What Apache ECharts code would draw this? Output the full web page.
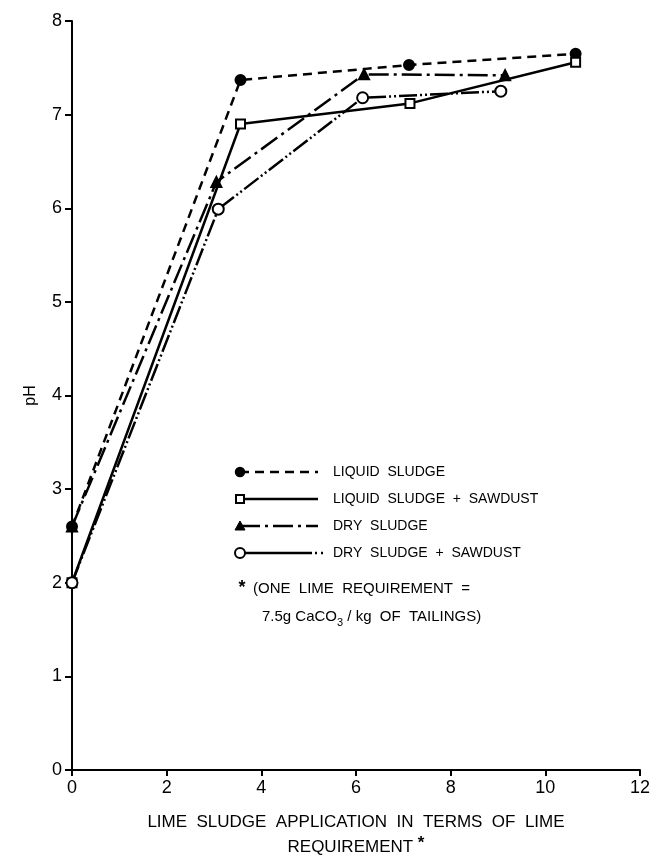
<!DOCTYPE html>
<html>
<head>
<meta charset="utf-8">
<script src="https://cdn.jsdelivr.net/npm/echarts@6/dist/echarts.min.js"></script>
<style>
html,body{margin:0;padding:0;background:#fff;}
#chart{width:653px;height:861px;}
</style>
</head>
<body>
<div id="chart"></div>
<script>
// ---- data ----
const liquidX = [0, 3.56, 7.12, 10.64];
const liquidY = [2.6, 7.37, 7.53, 7.65];
const liquidSawX = [0, 3.56, 7.14, 10.64];
const liquidSawY = [2.0, 6.9, 7.12, 7.56];
const dryX = [0, 3.05, 6.17, 9.15];
const dryY = [2.6, 6.28, 7.43, 7.42];
const drySawX = [0, 3.09, 6.14, 9.06];
const drySawY = [2.0, 5.99, 7.18, 7.25];
const seriesNames = ['LIQUID  SLUDGE', 'LIQUID  SLUDGE  +  SAWDUST', 'DRY  SLUDGE', 'DRY  SLUDGE  +  SAWDUST'];
const xTicks = [0, 2, 4, 6, 8, 10, 12];
const yTicks = [0, 1, 2, 3, 4, 5, 6, 7, 8];

const FONT = "'Liberation Sans', Arial, Helvetica, sans-serif";
const pairs = (xs, ys) => xs.map((x, i) => [x, ys[i]]);

const chart = echarts.init(document.getElementById('chart'), null, {renderer: 'canvas'});

// legend drawn as graphics
const lgX = 240, lgLineEnd = 318, lgTextX = 333;
const lgY = [472, 499, 526, 553];
const lw = 2.5;
const graphics = [];
// row 1: dashed + filled circle
graphics.push({type:'line', shape:{x1:lgX, y1:lgY[0], x2:lgLineEnd, y2:lgY[0]}, style:{stroke:'#000', lineWidth:lw, lineDash:[9,6]}});
graphics.push({type:'circle', shape:{cx:lgX, cy:lgY[0], r:4.5}, style:{fill:'#000', stroke:'#000', lineWidth:1.5}});
// row 2: solid + open square
graphics.push({type:'line', shape:{x1:lgX, y1:lgY[1], x2:lgLineEnd, y2:lgY[1]}, style:{stroke:'#000', lineWidth:lw}});
graphics.push({type:'rect', shape:{x:lgX-4, y:lgY[1]-4, width:8, height:8}, style:{fill:'#fff', stroke:'#000', lineWidth:2}});
// row 3: dash-dot + filled triangle
graphics.push({type:'line', shape:{x1:lgX, y1:lgY[2], x2:lgLineEnd, y2:lgY[2]}, style:{stroke:'#000', lineWidth:lw, lineDash:[20,5,3,5]}});
graphics.push({type:'polygon', shape:{points:[[lgX, lgY[2]-5],[lgX-5, lgY[2]+4],[lgX+5, lgY[2]+4]]}, style:{fill:'#000', stroke:'#000', lineWidth:1}});
// row 4: solid then dots + open circle
graphics.push({type:'line', shape:{x1:lgX, y1:lgY[3], x2:lgLineEnd-6, y2:lgY[3]}, style:{stroke:'#000', lineWidth:lw}});
graphics.push({type:'line', shape:{x1:lgLineEnd-3, y1:lgY[3], x2:lgLineEnd+6, y2:lgY[3]}, style:{stroke:'#000', lineWidth:lw, lineDash:[2,4]}});
graphics.push({type:'circle', shape:{cx:lgX, cy:lgY[3], r:5}, style:{fill:'#fff', stroke:'#000', lineWidth:2}});
seriesNames.forEach((n, i) => {
  graphics.push({type:'text', x:lgTextX, y:lgY[i], style:{text:n, fill:'#000', font:'14px ' + FONT, verticalAlign:'middle'}});
});
// note
graphics.push({type:'text', x:242, y:588, style:{text:'*', fill:'#000', font:'bold 18px ' + FONT, align:'center', verticalAlign:'middle'}});
graphics.push({type:'text', x:253, y:589, style:{text:'(ONE  LIME  REQUIREMENT  =', fill:'#000', font:'15px ' + FONT, verticalAlign:'middle'}});
graphics.push({type:'text', x:262, y:617, style:{
  text:'{a|7.5g CaCO}{s|3}{a| / kg  OF  TAILINGS)}', verticalAlign:'middle',
  rich:{a:{fontSize:15, fontFamily:FONT, fill:'#000', lineHeight:22}, s:{fontSize:11, fontFamily:FONT, fill:'#000', lineHeight:22, verticalAlign:'bottom'}}
}});

const common = {
  type:'line', symbolKeepAspect:true, z:3,
  itemStyle:{color:'#000', borderColor:'#000', borderWidth:2}
};

chart.setOption({
  animation:false,
  backgroundColor:'#fff',
  textStyle:{fontFamily:FONT},
  grid:{left:72, right:9, top:21, bottom:89, containLabel:false},
  xAxis:{
    type:'value', min:0, max:12, interval:2,
    axisLine:{show:true, onZero:false, lineStyle:{color:'#000', width:2}},
    axisTick:{show:true, inside:false, length:6, lineStyle:{color:'#000', width:2}},
    axisLabel:{color:'#000', fontSize:18, margin:9, fontFamily:FONT,
      formatter:(v)=> xTicks.includes(v) ? String(v) : ''},
    splitLine:{show:false},
    name:'{t|LIME  SLUDGE  APPLICATION  IN  TERMS  OF  LIME}\n{t|REQUIREMENT }{s|*}',
    nameLocation:'middle', nameGap:40,
    nameTextStyle:{color:'#000', rich:{
      t:{fontSize:17, fontFamily:FONT, color:'#000', lineHeight:25},
      s:{fontSize:17, fontFamily:FONT, color:'#000', fontWeight:'bold', lineHeight:25, verticalAlign:'top'}
    }}
  },
  yAxis:{
    type:'value', min:0, max:8, interval:1,
    axisLine:{show:true, onZero:false, lineStyle:{color:'#000', width:2}},
    axisTick:{show:true, inside:false, length:7, lineStyle:{color:'#000', width:2}},
    axisLabel:{color:'#000', fontSize:18, margin:10, fontFamily:FONT,
      formatter:(v)=> yTicks.includes(v) ? String(v) : ''},
    splitLine:{show:false},
    name:'pH', nameLocation:'middle', nameGap:33, nameRotate:90,
    nameTextStyle:{color:'#000', fontSize:16, fontFamily:FONT}
  },
  legend:{show:false},
  graphic:graphics,
  series:[
    Object.assign({}, common, {
      name:seriesNames[0], data:pairs(liquidX, liquidY),
      symbol:'circle', symbolSize:10,
      lineStyle:{color:'#000', width:lw, type:[9,6]}
    }),
    Object.assign({}, common, {
      name:seriesNames[1], data:pairs(liquidSawX, liquidSawY),
      symbol:'rect', symbolSize:9,
      itemStyle:{color:'#fff', borderColor:'#000', borderWidth:2},
      lineStyle:{color:'#000', width:lw, type:'solid'}
    }),
    Object.assign({}, common, {
      name:seriesNames[2], data:pairs(dryX, dryY),
      symbol:'triangle', symbolSize:10,
      lineStyle:{color:'#000', width:lw, type:[20,5,3,5]}
    }),
    Object.assign({}, common, {
      name:seriesNames[3], data:pairs(drySawX, drySawY),
      symbol:'circle', symbolSize:11,
      itemStyle:{color:'#fff', borderColor:'#000', borderWidth:2},
      lineStyle:{color:'#000', width:lw, type:[18,3,2,3,2,3]}
    })
  ]
});
</script>
</body>
</html>
